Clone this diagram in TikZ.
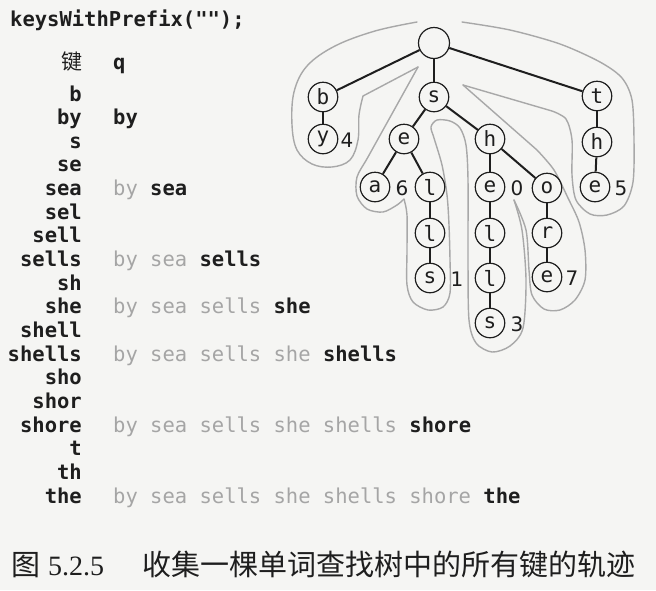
\documentclass[tikz,border=0pt]{standalone}
\usepackage{fontspec}
\setmonofont{DejaVu Sans Mono}
\newfontfamily\cjkfont{Noto Sans CJK SC}
\newfontfamily\capserif{Liberation Serif}
\newfontfamily\digitfont{DejaVu Sans}
\definecolor{bgpaper}{RGB}{245,245,243}
\definecolor{ink}{RGB}{30,30,30}
\definecolor{qgray}{RGB}{165,165,165}
\definecolor{tracegray}{RGB}{168,168,168}
\newcommand{\qg}[1]{{\mdseries\color{qgray}#1}}
\begin{document}
\begin{tikzpicture}[x=1pt,y=-1pt,
  tn/.style={circle,draw=ink,line width=1.2pt,minimum size=29.5pt,inner sep=0pt,
    font=\ttfamily\fontsize{21}{21}\selectfont,text=ink},
  rootnode/.style={tn,minimum size=31pt},
  edge/.style={draw=ink,line width=2pt},
  val/.style={font=\digitfont\fontsize{20}{20}\selectfont,text=ink,inner sep=0pt},
  keytext/.style={anchor=base east,inner sep=0pt,
    font=\ttfamily\bfseries\fontsize{20.5}{24}\selectfont,text=ink},
  qtext/.style={anchor=base west,inner sep=0pt,
    font=\ttfamily\bfseries\fontsize{20.5}{24}\selectfont,text=ink},
  trace/.style={draw=tracegray,line width=1.4pt,line join=round,line cap=round},
  captext/.style={anchor=base west,inner sep=0pt,text=ink}]
\fill[bgpaper] (0,0) rectangle (656,590);
\useasboundingbox (0,0) rectangle (656,590);

% ---------- left column ----------
\node[qtext] (hdr) at (10,26) {keysWithPrefix("");};
\node[keytext,font=\cjkfont\fontsize{21}{24}\selectfont] (hkey) at (83,69) {键};
\node[qtext] (hq) at (113,69) {q};

\foreach \i/\k in {0/b,1/by,2/s,3/se,4/sea,5/sel,6/sell,7/sells,8/sh,9/she,
  10/shell,11/shells,12/sho,13/shor,14/shore,15/t,16/th,17/the}
  \node[keytext] (k\i) at (82,{101+23.65*\i}) {\k};

\node[qtext] (q1) at (113,124.65) {by};
\node[qtext] (q4) at (113,195.6) {\qg{by }sea};
\node[qtext] (q7) at (113,266.55) {\qg{by sea }sells};
\node[qtext] (q9) at (113,313.85) {\qg{by sea sells }she};
\node[qtext] (q11) at (113,361.15) {\qg{by sea sells she }shells};
\node[qtext] (q14) at (113,432.1) {\qg{by sea sells she shells }shore};
\node[qtext] (q17) at (113,503.05) {\qg{by sea sells she shells shore }the};

% ---------- trace ----------
\draw[trace] plot[smooth,tension=0.6] coordinates {(417,22) (375,31) (335,46) (307,66) (294,92) (292,125) (297,150) (312,164) (332,167) (350,160) (358,140) (359,115) (363,96)} -- (418,67);
\draw[trace] plot[smooth,tension=0.5] coordinates {(418,67) (393,112) (368,157) (357,177) (357,196) (367,209) (383,212) (397,205) (404,199)};
\draw[trace] plot[smooth,tension=0.5] coordinates {(404,199) (407,215) (407,250) (407,285) (413,302) (428,310) (443,307) (450,293) (450,260) (449,225) (447,195) (442,165) (434,138) (431,127) (437,120) (450,121) (460,128) (466,145) (468,180) (468,260) (469,320) (476,343) (492,352) (510,346) (523,328) (526,280) (522,230) (514,200)};
\draw[trace] plot[smooth,tension=0.5] coordinates {(514,200) (526,230) (529,270) (532,295) (544,309) (560,310) (575,300) (585,280) (585,250) (579,222) (568,198) (554,170) (537,150)} -- (463,85);
\draw[trace] (463,85) -- (552,111) plot[smooth,tension=0.5] coordinates {(552,111) (566,119) (572,140) (572,175) (576,200) (590,214) (607,215) (624,206) (633,182) (634,140) (632,100) (622,78) (600,62) (560,44) (510,30) (462,22)};

% ---------- trie ----------
\node[rootnode] (r) at (434,43) {};
\node[tn] (b) at (323,97) {b};
\node[tn] (s) at (434,97) {s};
\node[tn] (t) at (597,96) {t};
\node[tn] (by) at (323,139) {y};
\node[tn] (se) at (404,139) {e};
\node[tn] (sh) at (490,139) {h};
\node[tn] (th) at (597,142) {h};
\node[tn] (sea) at (375,187) {a};
\node[tn] (sel) at (430,187) {l};
\node[tn] (she) at (490,187) {e};
\node[tn] (sho) at (547,188) {o};
\node[tn] (the) at (595,187) {e};
\node[tn] (sell) at (430,233) {l};
\node[tn] (shel) at (490,233) {l};
\node[tn] (shor) at (547,233) {r};
\node[tn] (sells) at (430,278) {s};
\node[tn] (shell) at (490,278) {l};
\node[tn] (shore) at (547,277) {e};
\node[tn] (shells) at (490,323) {s};

\draw[edge] (r) -- (b);
\draw[edge] (r) -- (s);
\draw[edge] (r) -- (t);
\draw[edge] (b) -- (by);
\draw[edge] (s) -- (se);
\draw[edge] (s) -- (sh);
\draw[edge] (t) -- (th);
\draw[edge] (th) -- (the);
\draw[edge] (se) -- (sea);
\draw[edge] (se) -- (sel);
\draw[edge] (sel) -- (sell);
\draw[edge] (sell) -- (sells);
\draw[edge] (sh) -- (she);
\draw[edge] (sh) -- (sho);
\draw[edge] (she) -- (shel);
\draw[edge] (shel) -- (shell);
\draw[edge] (shell) -- (shells);
\draw[edge] (sho) -- (shor);
\draw[edge] (shor) -- (shore);

\node[val] (v4) at (347,140) {4};
\node[val] (v6) at (402,188) {6};
\node[val] (v0) at (517,188) {0};
\node[val] (v5) at (621,188) {5};
\node[val] (v1) at (457,279) {1};
\node[val] (v7) at (572,278) {7};
\node[val] (v3) at (517,324) {3};

% ---------- caption ----------
\node[captext,font=\cjkfont\fontsize{29}{32}\selectfont] (capfig) at (11,575) {图};
\node[captext,font=\capserif\fontsize{28}{32}\selectfont] (capnum) at (48,575) {5.2.5};
\node[captext,font=\cjkfont\fontsize{29}{32}\selectfont] (captitle) at (142,575) {收集一棵单词查找树中的所有键的轨迹};
\end{tikzpicture}
\end{document}
